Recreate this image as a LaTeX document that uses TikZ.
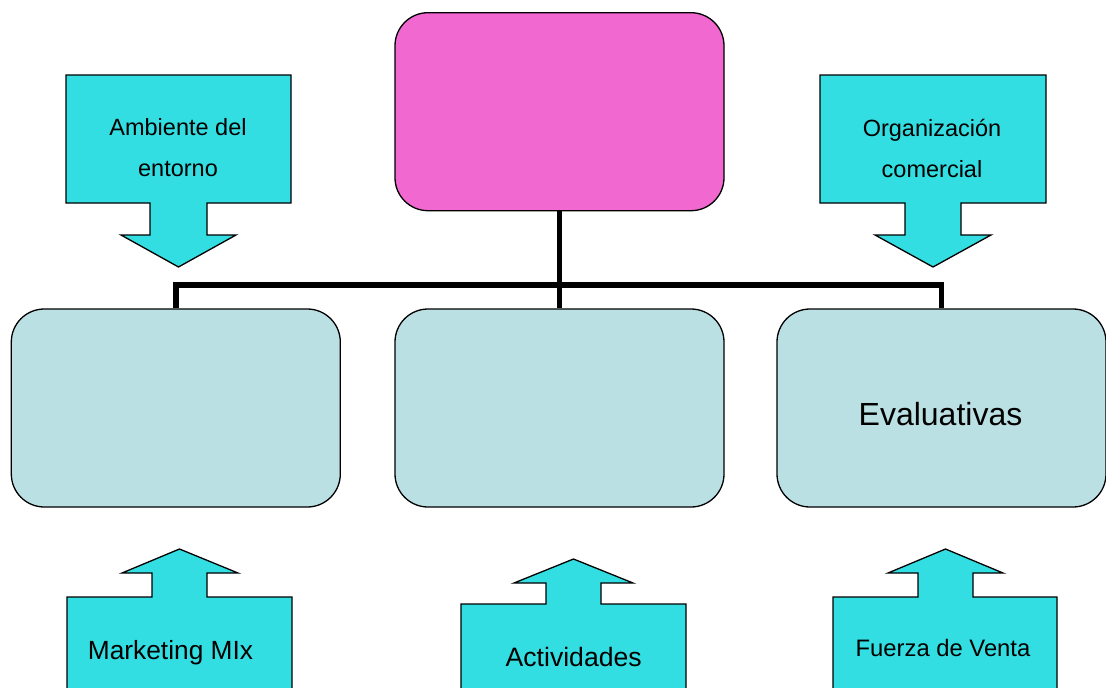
\documentclass[tikz,border=0pt]{standalone}
\usepackage{fontspec}
\setmainfont{Liberation Sans}
\usetikzlibrary{backgrounds}
\definecolor{pinkbox}{RGB}{240,104,208}
\definecolor{bluebox}{RGB}{187,224,227}
\definecolor{cyancall}{RGB}{51,222,226}
\begin{document}
\begin{tikzpicture}[x=1pt,y=-1pt,
  rbox/.style={draw=black,line width=1.3pt,rounded corners=33pt,minimum width=329pt,minimum height=198pt,inner sep=0pt,anchor=center},
  conn/.style={line width=5.5pt,draw=black},
  callshape/.style={draw=black,line width=1.3pt,fill=cyancall},
  lbl/.style={inner sep=0pt,align=center}]
\clip (0,0) rectangle (1106,688);
% callouts
\draw[callshape] (66,75) -- (291,75) -- (291,203) -- (207,203) -- (207,235) -- (236,235) -- (178.5,267) -- (121,235) -- (150,235) -- (150,203) -- (66,203) -- cycle;
\draw[callshape] (820,75) -- (1046,75) -- (1046,203) -- (961,203) -- (961,235) -- (991,235) -- (933,267) -- (875,235) -- (905,235) -- (905,203) -- (820,203) -- cycle;
\draw[callshape] (67,700) -- (67,597) -- (152,597) -- (152,573) -- (122,573) -- (179.5,549) -- (238,573) -- (207,573) -- (207,597) -- (292,597) -- (292,700) -- cycle;
\draw[callshape] (461,700) -- (461,604) -- (546,604) -- (546,583) -- (514,583) -- (573.5,559) -- (633,583) -- (601,583) -- (601,604) -- (686,604) -- (686,700) -- cycle;
\draw[callshape] (833,700) -- (833,597) -- (918,597) -- (918,573) -- (888,573) -- (945.5,549) -- (1003,573) -- (973,573) -- (973,597) -- (1057,597) -- (1057,700) -- cycle;
% boxes
\node[rbox,fill=pinkbox] (top) at (559.5,111.7) {};
\node[rbox,fill=bluebox] (left) at (175.8,408) {};
\node[rbox,fill=bluebox] (mid) at (559.5,408) {};
\node[rbox,fill=bluebox] (right) at (941.5,408) {};
% connectors
\coordinate (bar) at (559.5,285);
\begin{scope}[on background layer]
\draw[conn] (top.south) -- (mid.north);
\draw[conn] (left.north) -- (left.north |- bar) -- (right.north |- bar) -- (right.north);
\end{scope}
% labels
\node[lbl,font=\fontsize{23.5}{41}\selectfont] (amb) at (178,148) {Ambiente del\\entorno};
\node[lbl,font=\fontsize{23.5}{41}\selectfont] (org) at (932,148) {Organización\\comercial};
\node[lbl,anchor=base,font=\fontsize{32}{38}\selectfont] (eval) at (940.5,425) {Evaluativas};
\node[lbl,anchor=base,font=\fontsize{26.3}{30}\selectfont] (mkt) at (170.5,659.3) {Marketing MIx};
\node[lbl,anchor=base,font=\fontsize{26.6}{30}\selectfont] (act) at (573.7,666.7) {Actividades};
\node[lbl,anchor=base,font=\fontsize{23.8}{28}\selectfont] (fza) at (943,656) {Fuerza de Venta};
\end{tikzpicture}
\end{document}
